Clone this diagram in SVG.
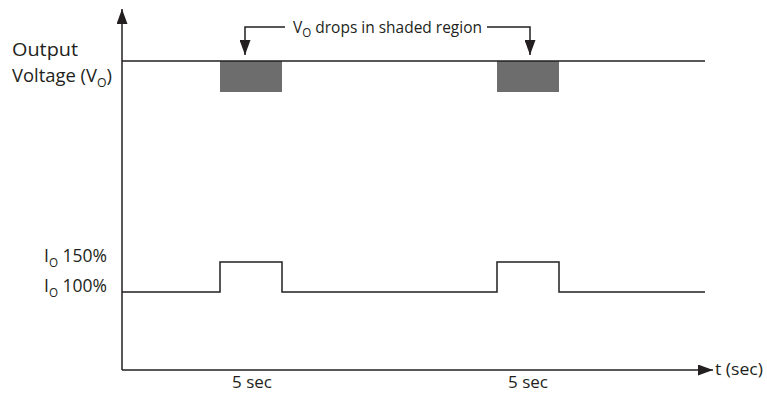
<svg xmlns="http://www.w3.org/2000/svg" width="767" height="394" viewBox="0 0 767 394">
<style>
text{font-family:"Open Sans","Liberation Sans",sans-serif;fill:#231f20}
.lb{font-size:18px}
.an{font-size:16px}
.ax{font-size:17px}
.sub{font-size:12px}
.ln{stroke:#231f20;stroke-width:1.5;fill:none}
</style>
<defs>
<marker id="ahs" markerWidth="15" markerHeight="11" refX="15" refY="5.5" orient="auto" markerUnits="userSpaceOnUse" viewBox="0 0 15 11">
<path d="M0,0 L15,5.5 L0,11 Z" fill="#231f20"/>
</marker>
</defs>
<g id="axes">
<path class="ln" d="M122,370 V9" marker-end="url(#ahs)"/>
<path class="ln" d="M122,370 H713" marker-end="url(#ahs)"/>
<text class="ax" x="715" y="375" textLength="48" lengthAdjust="spacingAndGlyphs">t (sec)</text>
</g>
<g id="voltage">
<rect x="220" y="61" width="62" height="31" fill="#6d6d6d"/>
<rect x="497" y="61" width="62" height="31" fill="#6d6d6d"/>
<path class="ln" d="M122,61 H705"/>
<text class="lb" x="12" y="56" textLength="66" lengthAdjust="spacingAndGlyphs">Output</text>
<text class="lb" x="12" y="82" textLength="100" lengthAdjust="spacingAndGlyphs">Voltage (V<tspan class="sub" dy="5">O</tspan><tspan dy="-5">)</tspan></text>
</g>
<g id="current">
<path class="ln" d="M122,292 H220 V262 H282 V292 H497 V262 H559 V292 H705"/>
<text class="lb" x="44" y="262" textLength="63" lengthAdjust="spacingAndGlyphs">I<tspan class="sub" dy="5">O</tspan><tspan dy="-5"> 150%</tspan></text>
<text class="lb" x="44" y="292" textLength="63" lengthAdjust="spacingAndGlyphs">I<tspan class="sub" dy="5">O</tspan><tspan dy="-5"> 100%</tspan></text>
</g>
<g id="connectors">
<path class="ln" d="M285,27 H245 V55" marker-end="url(#ahs)"/>
<path class="ln" d="M487,27 H530 V55" marker-end="url(#ahs)"/>
</g>
<g id="annotation">
<text class="an" x="293" y="33" textLength="189" lengthAdjust="spacingAndGlyphs">V<tspan class="sub" dy="4">O</tspan><tspan dy="-4"> drops in shaded region</tspan></text>
</g>
<g id="labels">
<text class="ax" x="232" y="388" textLength="40" lengthAdjust="spacingAndGlyphs">5 sec</text>
<text class="ax" x="508" y="388" textLength="40" lengthAdjust="spacingAndGlyphs">5 sec</text>
</g>
</svg>
